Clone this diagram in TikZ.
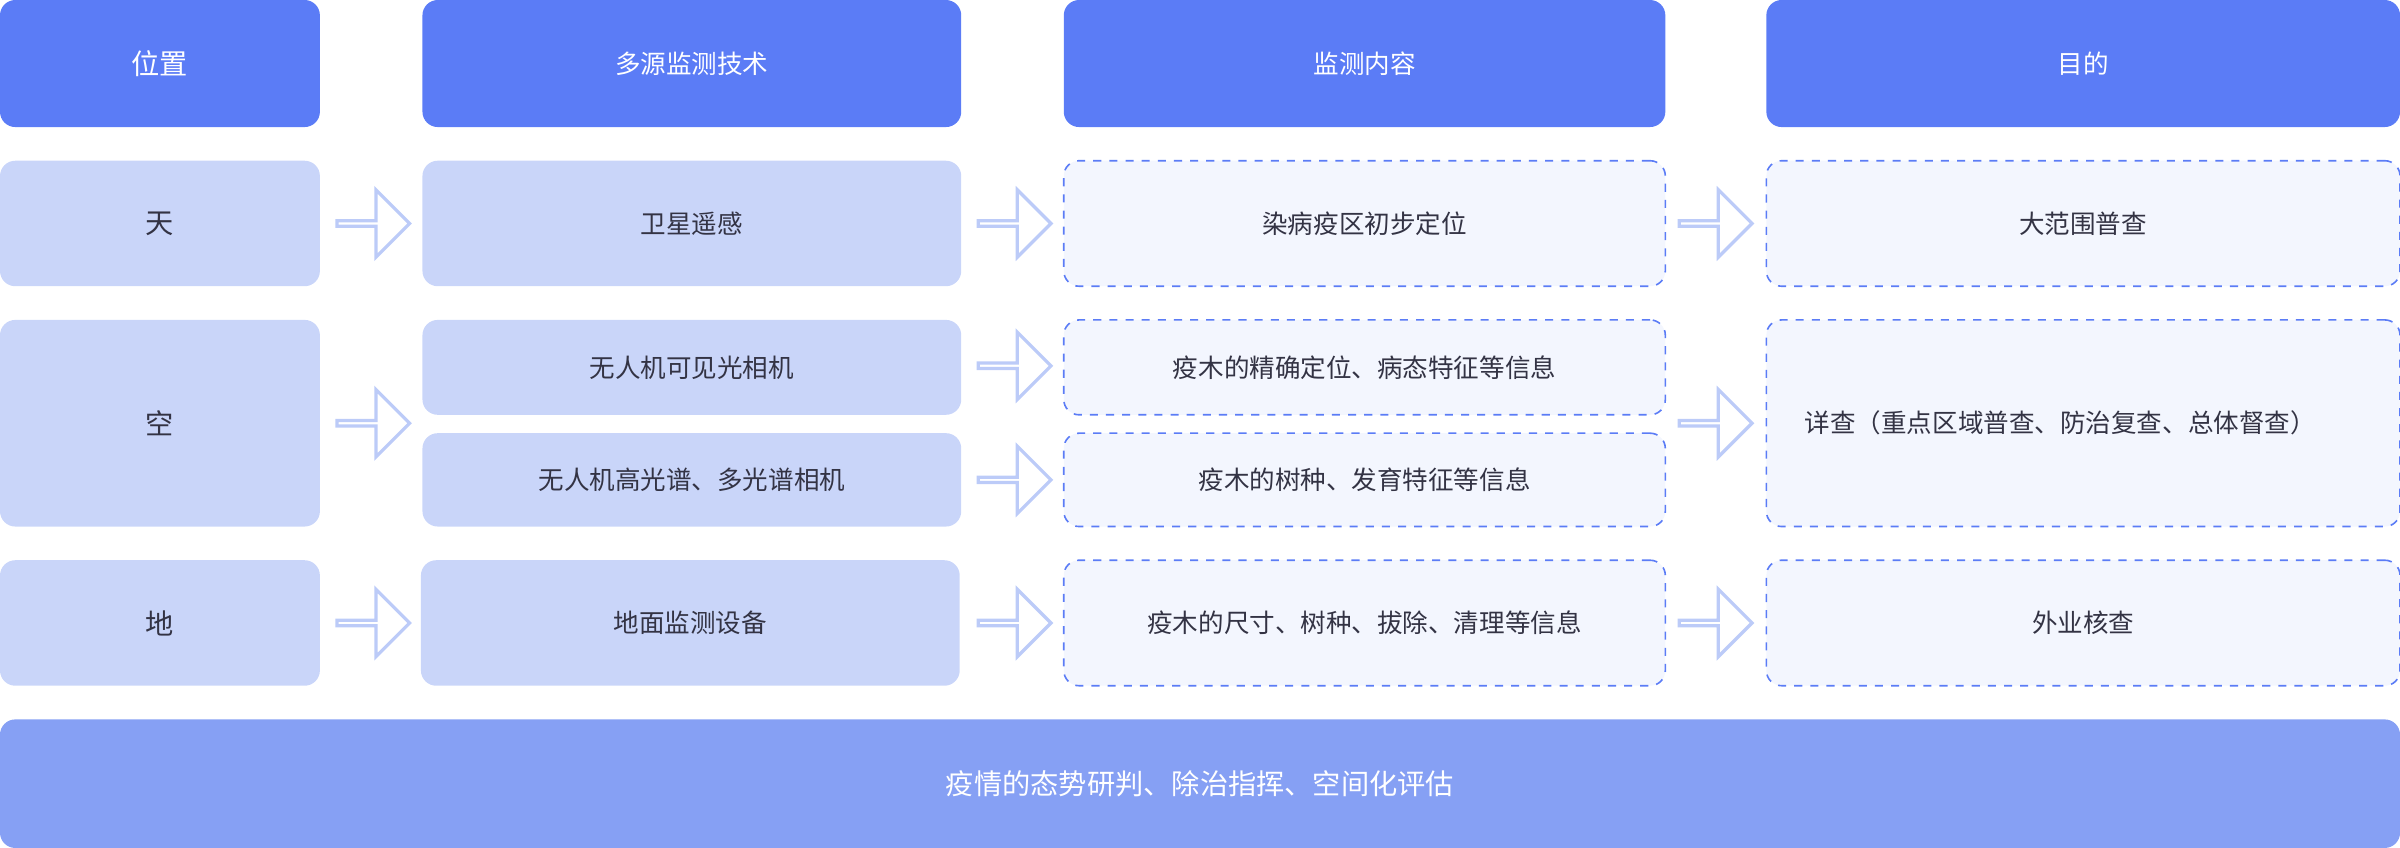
\documentclass[tikz,border=0pt]{standalone}
\usepackage{fontspec}
\setmainfont{Noto Sans CJK SC}
\usetikzlibrary{shapes.arrows, positioning}
\definecolor{headblue}{HTML}{5B7CF6}
\definecolor{lightblue}{HTML}{C9D5F9}
\definecolor{paleblue}{HTML}{F3F6FE}
\definecolor{barblue}{HTML}{86A0F4}
\definecolor{arrowblue}{HTML}{BCCBF8}
\definecolor{textdark}{HTML}{333344}
\tikzset{
  head/.style={rectangle, rounded corners=0.2cm, fill=headblue, text=white, inner sep=0pt},
  solidbox/.style={rectangle, rounded corners=0.2cm, fill=lightblue, text=textdark, inner sep=0pt},
  dashbox/.style={rectangle, rounded corners=0.2cm, fill=paleblue, draw=headblue, dashed, line width=0.6pt, text=textdark, inner sep=0pt},
  bigarrow/.style={single arrow, draw=arrowblue, line width=1.2pt, fill=white, minimum height=0.95cm, minimum width=0.88cm, single arrow head extend=0.24cm, single arrow tip angle=90, inner sep=0pt, outer sep=0pt}
}
\begin{document}
\begin{tikzpicture}[font=\fontsize{9.5}{12}\selectfont]
  \useasboundingbox (0,0) rectangle (31.36,-11.08);
  % header row
  \node (hpos) [head, minimum width=4.18cm, minimum height=1.66cm] at (2.09,-0.83) {\fontsize{10.5}{12}\selectfont 位置};
  \node (htech) [head, minimum width=7.04cm, minimum height=1.66cm] at (9.04,-0.83) {多源监测技术};
  \node (hcont) [head, minimum width=7.86cm, minimum height=1.66cm] at (17.83,-0.83) {监测内容};
  \node (haim) [head, minimum width=8.28cm, minimum height=1.66cm] at (27.22,-0.83) {目的};

  % sky
  \node (tian) [solidbox, minimum width=4.18cm, minimum height=1.64cm] at (2.09,-2.92) {\fontsize{10.5}{12}\selectfont 天};
  \node (sat) [solidbox, minimum width=7.04cm, minimum height=1.64cm] at (9.04,-2.92) {卫星遥感};
  \node (locate) [dashbox, minimum width=7.86cm, minimum height=1.64cm] at (17.83,-2.92) {染病疫区初步定位};
  \node (survey) [dashbox, minimum width=8.28cm, minimum height=1.64cm] at (27.22,-2.92) {大范围普查};

  % air
  \node (kong) [solidbox, minimum width=4.18cm, minimum height=2.70cm] at (2.09,-5.53) {\fontsize{10.5}{12}\selectfont 空};
  \node (uavrgb) [solidbox, minimum width=7.04cm, minimum height=1.24cm] at (9.04,-4.80) {无人机可见光相机};
  \node (uavhs) [solidbox, minimum width=7.04cm, minimum height=1.22cm] at (9.04,-6.27) {无人机高光谱、多光谱相机};
  \node (precise) [dashbox, minimum width=7.86cm, minimum height=1.24cm] at (17.83,-4.80) {疫木的精确定位、病态特征等信息};
  \node (species) [dashbox, minimum width=7.86cm, minimum height=1.22cm] at (17.83,-6.27) {疫木的树种、发育特征等信息};
  \node (detail) [dashbox, minimum width=8.28cm, minimum height=2.70cm] at (27.22,-5.53) {\hspace*{-0.6cm}详查（重点区域普查、防治复查、总体督查）};

  % ground
  \node (di) [solidbox, minimum width=4.18cm, minimum height=1.64cm] at (2.09,-8.14) {\fontsize{10.5}{12}\selectfont 地};
  \node (ground) [solidbox, minimum width=7.04cm, minimum height=1.64cm] at (9.02,-8.14) {地面监测设备};
  \node (size) [dashbox, minimum width=7.86cm, minimum height=1.64cm] at (17.83,-8.14) {疫木的尺寸、树种、拔除、清理等信息};
  \node (field) [dashbox, minimum width=8.28cm, minimum height=1.64cm] at (27.22,-8.14) {外业核查};

  % bottom bar
  \node (bar) [rectangle, rounded corners=0.2cm, fill=barblue, text=white, minimum width=31.36cm, minimum height=1.68cm, inner sep=0pt] at (15.68,-10.24) {\fontsize{10.5}{12}\selectfont 疫情的态势研判、除治指挥、空间化评估};

  % arrows
  \node (a1) [bigarrow] at (4.86,-2.92) {};
  \node (a2) [bigarrow] at (13.24,-2.92) {};
  \node (a3) [bigarrow] at (22.40,-2.92) {};
  \node (a4) [bigarrow] at (4.86,-5.53) {};
  \node (a5) [bigarrow] at (13.24,-4.78) {};
  \node (a6) [bigarrow] at (13.24,-6.27) {};
  \node (a7) [bigarrow] at (22.40,-5.53) {};
  \node (a8) [bigarrow] at (4.86,-8.14) {};
  \node (a9) [bigarrow] at (13.24,-8.14) {};
  \node (a10) [bigarrow] at (22.40,-8.14) {};
\end{tikzpicture}
\end{document}
